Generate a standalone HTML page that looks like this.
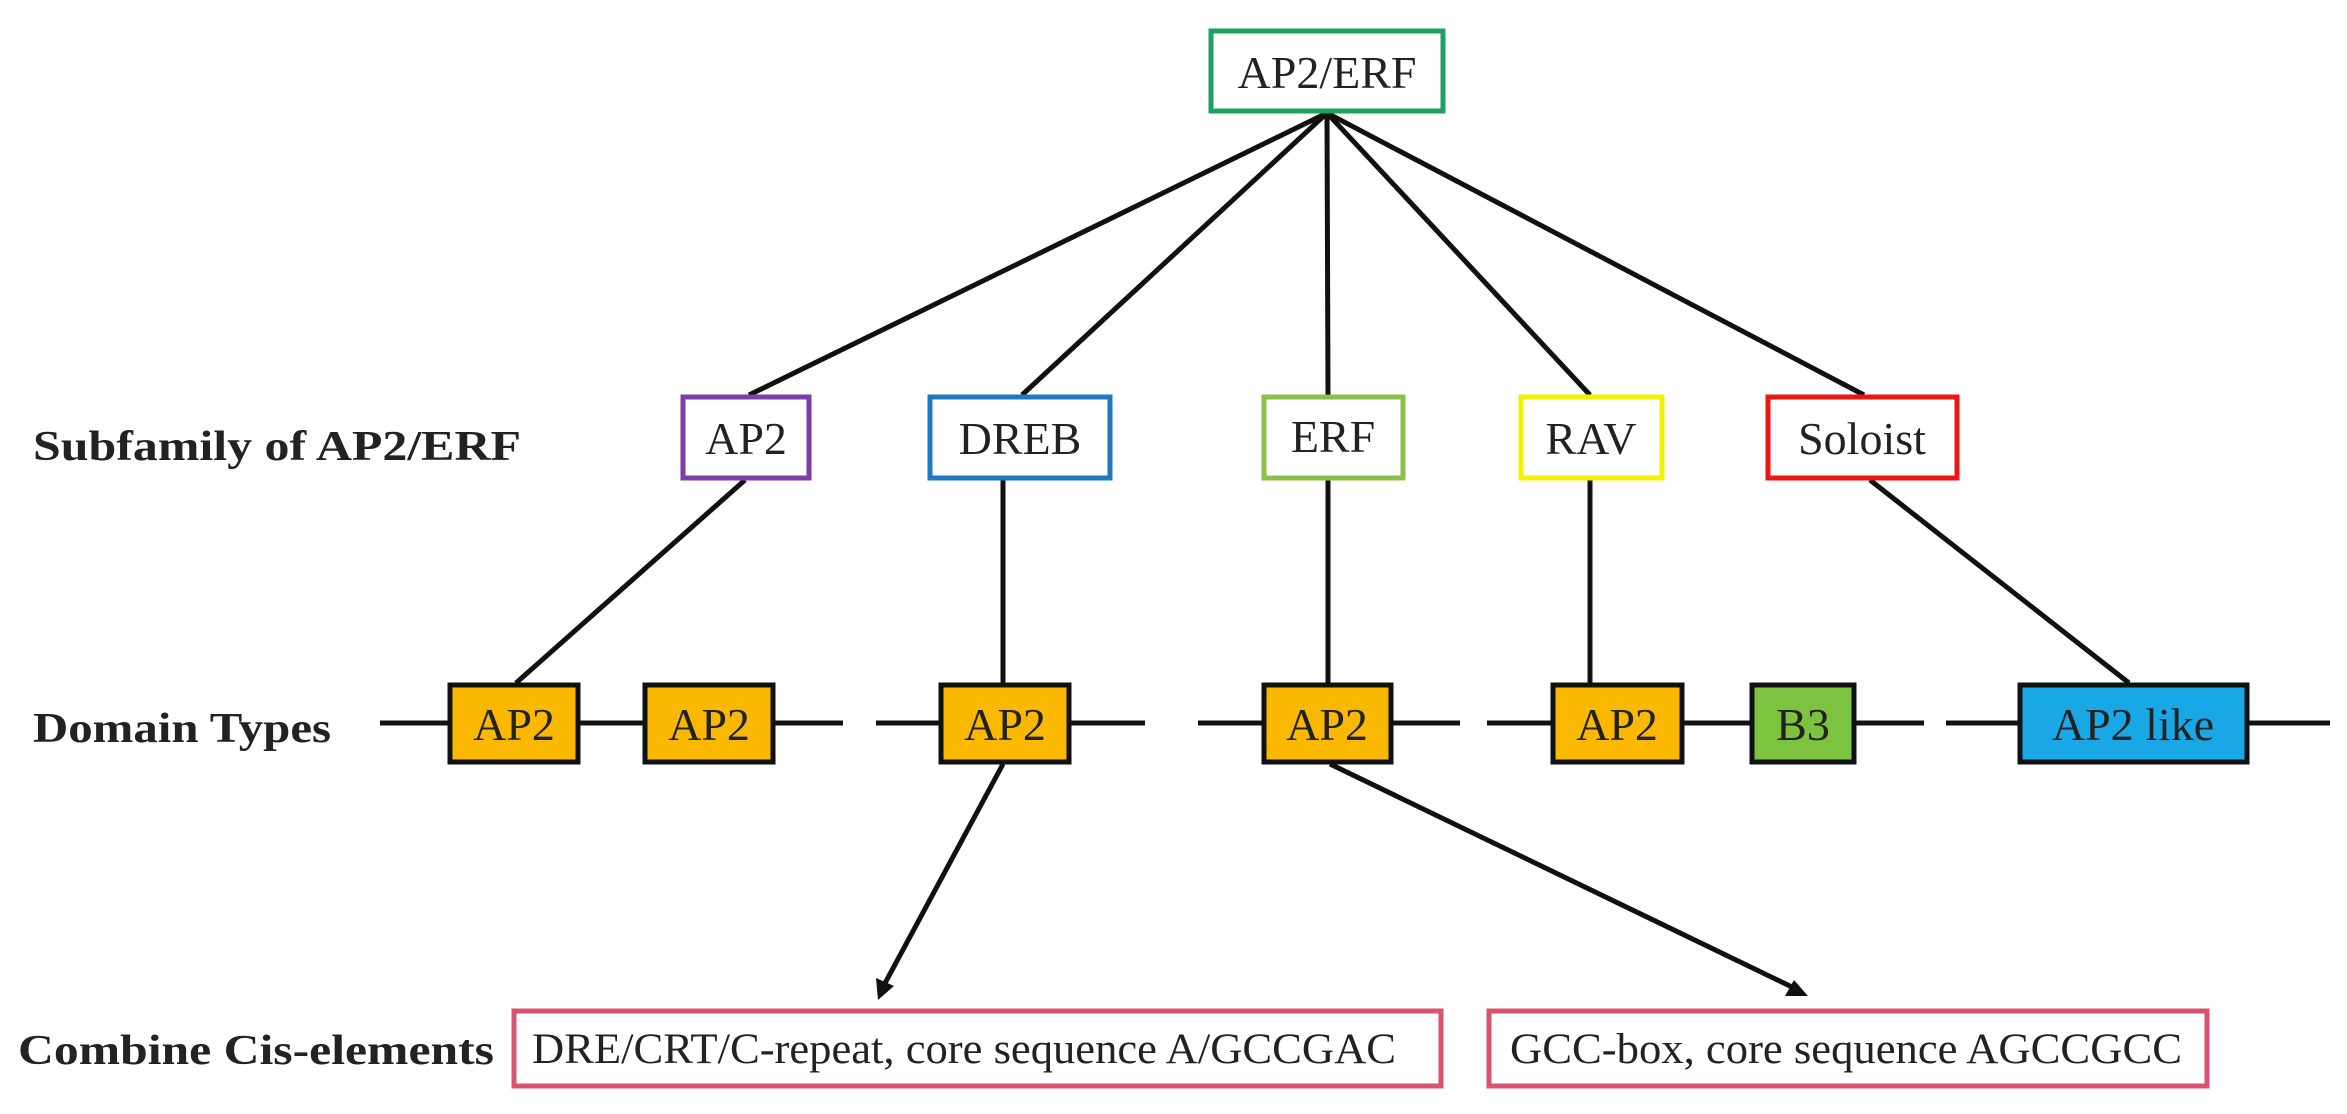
<!DOCTYPE html>
<html><head><meta charset="utf-8"><style>
html,body{margin:0;padding:0;background:#fff}
svg{display:block}
text{font-family:"Liberation Serif",serif;fill:#222}
</style></head><body>
<svg width="2347" height="1114" viewBox="0 0 2347 1114" xmlns="http://www.w3.org/2000/svg">
<defs><marker id="ah" markerWidth="10" markerHeight="10" refX="8" refY="5" orient="auto" markerUnits="userSpaceOnUse"><path d="M0,0 L0,0" /></marker></defs>
<g stroke="#111" stroke-width="5" fill="none">
<line x1="1327" y1="113" x2="749" y2="395"/>
<line x1="1327" y1="113" x2="1022" y2="395"/>
<line x1="1327" y1="113" x2="1328" y2="395"/>
<line x1="1327" y1="113" x2="1590" y2="395"/>
<line x1="1327" y1="113" x2="1864" y2="395"/>
<line x1="745" y1="480" x2="516" y2="683"/>
<line x1="1003" y1="480" x2="1003" y2="683"/>
<line x1="1328" y1="480" x2="1328" y2="683"/>
<line x1="1590" y1="480" x2="1590" y2="683"/>
<line x1="1870" y1="480" x2="2129" y2="683"/>
<line x1="380" y1="723" x2="843" y2="723"/>
<line x1="876" y1="723" x2="1145" y2="723"/>
<line x1="1198" y1="723" x2="1460" y2="723"/>
<line x1="1487" y1="723" x2="1924" y2="723"/>
<line x1="1946" y1="723" x2="2330" y2="723"/>
<line x1="1003" y1="764" x2="884" y2="985"/>
<line x1="1330" y1="764" x2="1792" y2="987"/>
</g>
<polygon points="878,1000 876,978 894,986" fill="#111"/>
<polygon points="1808,996 1785,996 1794,980" fill="#111"/>
<g stroke-width="5">
<rect x="1211" y="31" width="232" height="80" fill="#fff" stroke="#1fa060"/>
<rect x="683" y="397" width="126" height="81" fill="#fff" stroke="#7b3fa8"/>
<rect x="930" y="397" width="180" height="81" fill="#fff" stroke="#1f78c0"/>
<rect x="1264" y="397" width="139" height="81" fill="#fff" stroke="#8cc04a"/>
<rect x="1521" y="397" width="141" height="81" fill="#fff" stroke="#f2f200"/>
<rect x="1768" y="397" width="189" height="81" fill="#fff" stroke="#ee1515"/>
<rect x="450" y="685" width="128" height="77" fill="#fbb800" stroke="#111"/>
<rect x="645" y="685" width="128" height="77" fill="#fbb800" stroke="#111"/>
<rect x="941" y="685" width="128" height="77" fill="#fbb800" stroke="#111"/>
<rect x="1264" y="685" width="127" height="77" fill="#fbb800" stroke="#111"/>
<rect x="1553" y="685" width="129" height="77" fill="#fbb800" stroke="#111"/>
<rect x="1752" y="685" width="102" height="77" fill="#7cc440" stroke="#111"/>
<rect x="2020" y="685" width="227" height="77" fill="#1aa7e6" stroke="#111"/>
<rect x="514" y="1011" width="927" height="75" fill="#fff" stroke="#d9536e"/>
<rect x="1489" y="1011" width="718" height="75" fill="#fff" stroke="#d9536e"/>
</g>
<g font-size="46" text-anchor="middle">
<text x="1327" y="88">AP2/ERF</text>
<text x="746" y="454">AP2</text>
<text x="1020" y="454">DREB</text>
<text x="1333" y="452">ERF</text>
<text x="1591" y="454">RAV</text>
<text x="1862" y="454">Soloist</text>
<text x="514" y="740">AP2</text>
<text x="709" y="740">AP2</text>
<text x="1005" y="740">AP2</text>
<text x="1327" y="740">AP2</text>
<text x="1617" y="740">AP2</text>
<text x="1803" y="740">B3</text>
<text x="2133" y="740">AP2 like</text>
</g>
<g font-size="43">
<text x="532" y="1063" textLength="864" lengthAdjust="spacingAndGlyphs">DRE/CRT/C-repeat, core sequence A/GCCGAC</text>
<text x="1510" y="1063" textLength="672" lengthAdjust="spacingAndGlyphs">GCC-box, core sequence AGCCGCC</text>
</g>
<g font-size="42" font-weight="bold">
<text x="33" y="460" textLength="488" lengthAdjust="spacingAndGlyphs">Subfamily of AP2/ERF</text>
<text x="33" y="742" textLength="298" lengthAdjust="spacingAndGlyphs">Domain Types</text>
<text x="18" y="1064" textLength="476" lengthAdjust="spacingAndGlyphs">Combine Cis-elements</text>
</g>
</svg>
</body></html>
